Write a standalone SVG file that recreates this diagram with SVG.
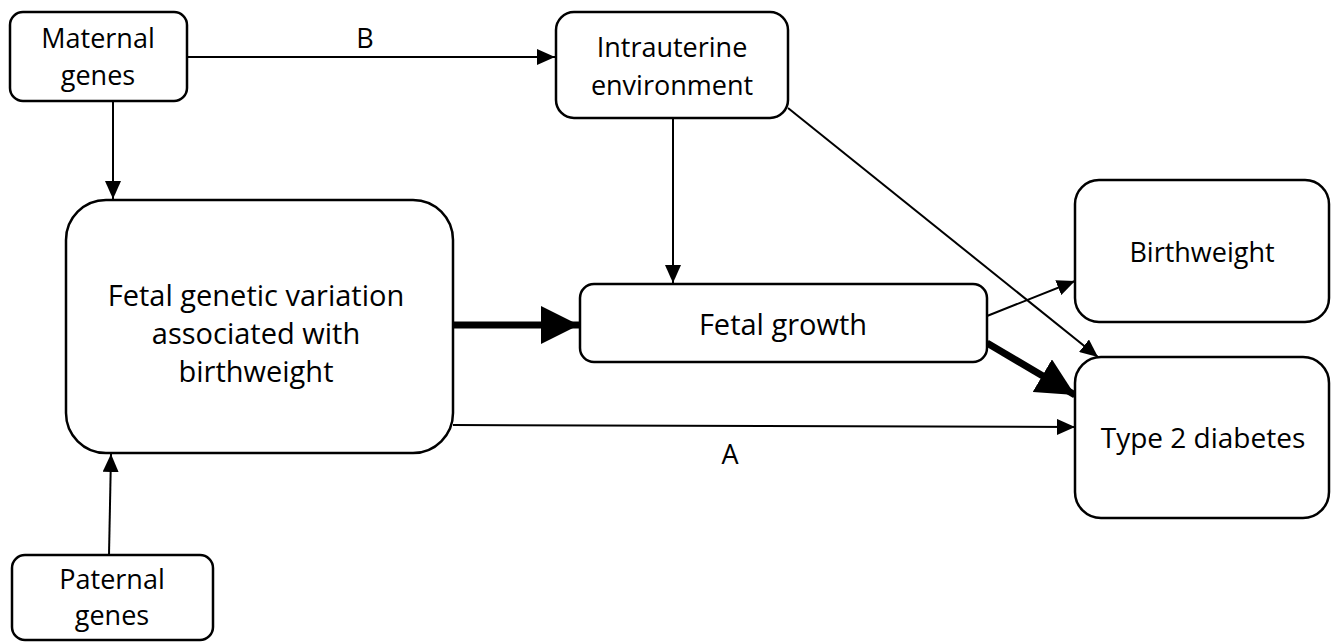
<svg xmlns="http://www.w3.org/2000/svg" width="1339" height="642" viewBox="0 0 1339 642">
<style>
.box{fill:#fff;stroke:#000;stroke-width:2.5}
.t{font-family:"Open Sans","Noto Sans",sans-serif;font-size:27px;fill:#000;text-anchor:middle}
.l{font-size:29px}
.c{stroke:#000;stroke-width:2;fill:none}
.ct{stroke:#000;stroke-width:7;fill:none}
</style>
<defs>
<marker id="ahs" viewBox="0 0 10 10" refX="10" refY="5" markerWidth="18" markerHeight="16" markerUnits="userSpaceOnUse" orient="auto" preserveAspectRatio="none"><path d="M0,0L10,5L0,10z" fill="#000"/></marker>
<marker id="ahb" viewBox="0 0 10 10" refX="10" refY="5" markerWidth="38" markerHeight="38" markerUnits="userSpaceOnUse" orient="auto" preserveAspectRatio="none"><path d="M0,0L10,5L0,10z" fill="#000"/></marker>
</defs>
<rect width="1339" height="642" fill="#fff"/>
<g id="connectors">
<line class="c" x1="187" y1="57" x2="555" y2="57" marker-end="url(#ahs)"/>
<line class="c" x1="113" y1="101" x2="113" y2="199" marker-end="url(#ahs)"/>
<line class="c" x1="109" y1="555" x2="111" y2="454" marker-end="url(#ahs)"/>
<line class="c" x1="673" y1="118" x2="673" y2="283" marker-end="url(#ahs)"/>
<line class="c" x1="788" y1="108" x2="1098" y2="357" marker-end="url(#ahs)"/>
<line class="ct" x1="453" y1="325" x2="579" y2="325" marker-end="url(#ahb)"/>
<line class="c" x1="987" y1="316" x2="1075" y2="281" marker-end="url(#ahs)"/>
<line class="ct" x1="987" y1="343" x2="1075" y2="395" marker-end="url(#ahb)"/>
<line class="c" x1="453" y1="425" x2="1075" y2="427" marker-end="url(#ahs)"/>
<text class="t" x="365" y="48">B</text>
<text class="t" x="730" y="464">A</text>
</g>
<g id="maternal">
<rect class="box" x="10" y="12" width="177" height="89" rx="13"/>
<text class="t" x="98" y="48">Maternal</text>
<text class="t" x="98" y="85">genes</text>
</g>
<g id="intrauterine">
<rect class="box" x="556" y="12" width="232" height="106" rx="18"/>
<text class="t" x="672" y="57">Intrauterine</text>
<text class="t" x="672" y="95">environment</text>
</g>
<g id="fetalgenetic">
<rect class="box" x="66" y="200" width="387" height="253" rx="40"/>
<text class="t l" x="256" y="306">Fetal genetic variation</text>
<text class="t l" x="256" y="344">associated with</text>
<text class="t l" x="256" y="382">birthweight</text>
</g>
<g id="fetalgrowth">
<rect class="box" x="580" y="284" width="407" height="78" rx="14"/>
<text class="t l" x="783" y="335">Fetal growth</text>
</g>
<g id="birthweight">
<rect class="box" x="1075" y="180" width="254" height="142" rx="24"/>
<text class="t" x="1202" y="262">Birthweight</text>
</g>
<g id="t2d">
<rect class="box" x="1075" y="357" width="254" height="161" rx="26"/>
<text class="t" x="1203" y="448" style="font-size:28px">Type 2 diabetes</text>
</g>
<g id="paternal">
<rect class="box" x="12" y="555" width="201" height="85" rx="13"/>
<text class="t" x="112" y="589">Paternal</text>
<text class="t" x="112" y="625">genes</text>
</g>
</svg>
